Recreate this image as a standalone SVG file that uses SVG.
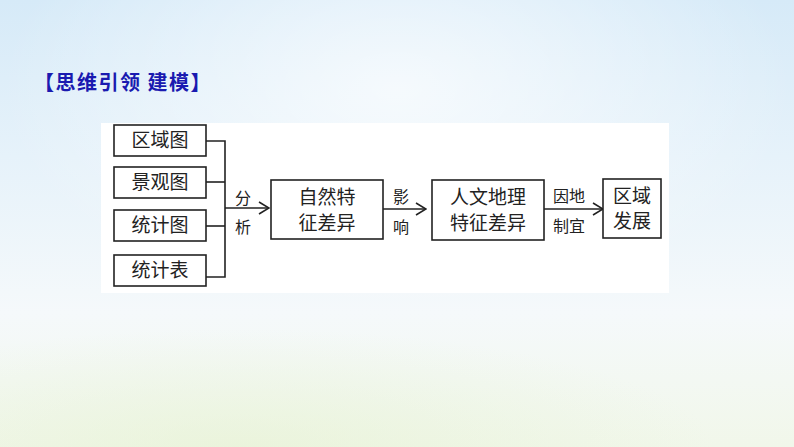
<svg xmlns="http://www.w3.org/2000/svg" width="794" height="447" viewBox="0 0 794 447">
<defs>
<linearGradient id="bg" x1="0" y1="0" x2="0" y2="1">
<stop offset="0" stop-color="#d6eaf8"/>
<stop offset="0.35" stop-color="#e6f2fa"/>
<stop offset="0.7" stop-color="#f5f9fb"/>
<stop offset="1" stop-color="#f1f7ea"/>
</linearGradient>
<radialGradient id="glow" cx="0.5" cy="0.2" r="0.5">
<stop offset="0" stop-color="#ffffff" stop-opacity="0.7"/>
<stop offset="1" stop-color="#ffffff" stop-opacity="0"/>
</radialGradient>
<radialGradient id="grass" cx="0.3" cy="1" r="0.6">
<stop offset="0" stop-color="#e6f2d2" stop-opacity="0.6"/>
<stop offset="1" stop-color="#e6f2d2" stop-opacity="0"/>
</radialGradient>
<marker id="arr" viewBox="0 0 12 14" refX="11" refY="7" markerWidth="12" markerHeight="14" markerUnits="userSpaceOnUse" orient="auto">
<polyline points="1,1 11,7 1,13" fill="none" stroke="#222" stroke-width="1.6"/>
</marker>
<style>
.box{fill:#fff;stroke:#222;stroke-width:1.6}
.t{font-family:"Noto Sans CJK SC","Noto Sans CJK JP",sans-serif;font-size:19px;fill:#222;text-anchor:middle}
.s{font-family:"Noto Sans CJK SC","Noto Sans CJK JP",sans-serif;font-size:16px;fill:#222;text-anchor:middle}
.ln{fill:none;stroke:#222;stroke-width:1.6}
</style>
</defs>
<rect width="794" height="447" fill="url(#bg)"/>
<rect width="794" height="447" fill="url(#glow)"/>
<rect y="250" width="794" height="197" fill="url(#grass)"/>
<text x="34" y="90" font-family="'Noto Sans CJK SC',sans-serif" font-size="20" font-weight="bold" letter-spacing="1.5" fill="#1a1ab0">【思维引领 建模】</text>
<rect x="101" y="123" width="568" height="170" fill="#fff"/>
<g id="connectors">
<polyline class="ln" points="206,141 225,141 225,277 206,277"/>
<line class="ln" x1="206" y1="182" x2="225" y2="182"/>
<line class="ln" x1="206" y1="226" x2="225" y2="226"/>
<line class="ln" x1="225" y1="208" x2="269" y2="208" marker-end="url(#arr)"/>
<line class="ln" x1="383" y1="209" x2="426" y2="209" marker-end="url(#arr)"/>
<line class="ln" x1="544" y1="209" x2="603" y2="209" marker-end="url(#arr)"/>
<text class="s" x="243" y="204">分</text>
<text class="s" x="243" y="233">析</text>
<text class="s" x="401" y="203">影</text>
<text class="s" x="401" y="233">响</text>
<text class="s" x="569" y="202">因地</text>
<text class="s" x="569" y="232">制宜</text>
</g>
<g id="n1"><rect class="box" x="114" y="125" width="92" height="31"/><text class="t" x="160" y="147">区域图</text></g>
<g id="n2"><rect class="box" x="114" y="167" width="92" height="31"/><text class="t" x="160" y="189">景观图</text></g>
<g id="n3"><rect class="box" x="114" y="210" width="92" height="31"/><text class="t" x="160" y="232">统计图</text></g>
<g id="n4"><rect class="box" x="114" y="255" width="92" height="31"/><text class="t" x="160" y="277">统计表</text></g>
<g id="n5"><rect class="box" x="271" y="180" width="112" height="59"/><text class="t" x="327" y="204">自然特</text><text class="t" x="327" y="230">征差异</text></g>
<g id="n6"><rect class="box" x="432" y="180" width="112" height="60"/><text class="t" x="488" y="204">人文地理</text><text class="t" x="488" y="230">特征差异</text></g>
<g id="n7"><rect class="box" x="603" y="179" width="58" height="59"/><text class="t" x="632" y="203">区域</text><text class="t" x="632" y="228">发展</text></g>
</svg>
